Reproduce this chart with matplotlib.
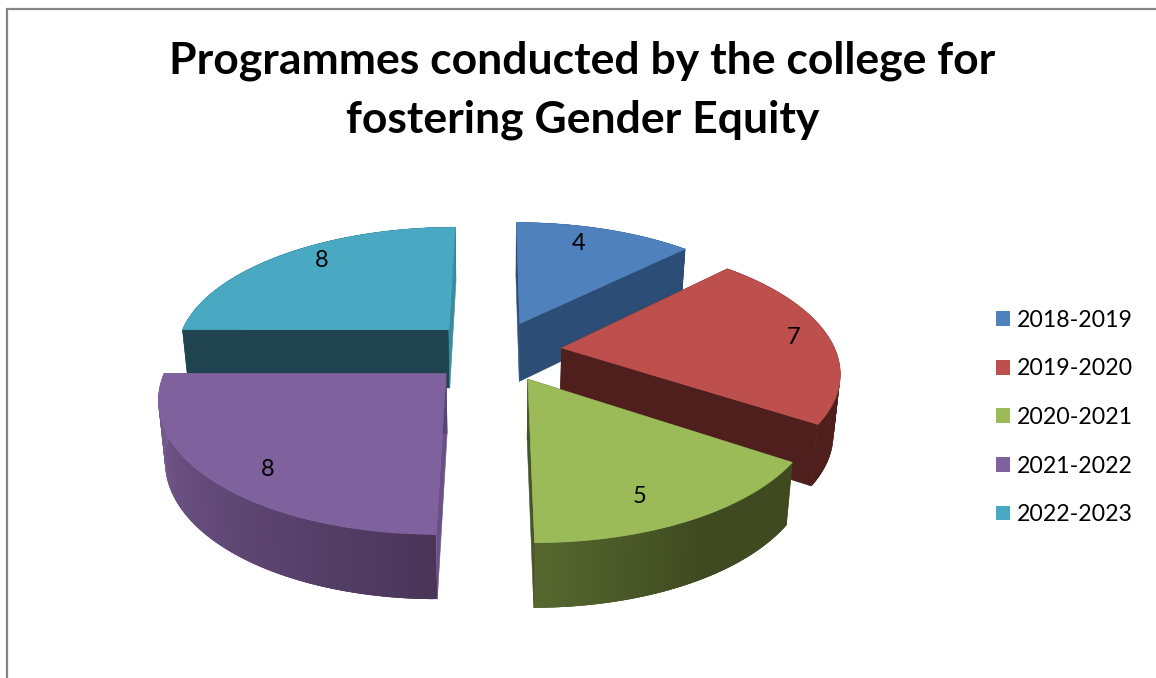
import numpy as np
import matplotlib
matplotlib.use("Agg")
import matplotlib.pyplot as plt
from matplotlib.patches import Polygon, Patch
from matplotlib.collections import PolyCollection
from matplotlib.colors import to_rgb

title_lines = ["Programmes conducted by the college for", "fostering Gender Equity"]
years = ["2018-2019", "2019-2020", "2020-2021", "2021-2022", "2022-2023"]
programmes = [4, 7, 5, 8, 8]

top_colors = ["#4F81BD", "#BD4F4C", "#9BBB59", "#7F619D", "#49A9C3"]
# colour of the flat cut face at the start and at the end of each clockwise sweep
start_faces = ["#2C4D75", "#4F1F1E", "#3F4A20", "#6B5088", "#1F444F"]
end_faces = ["#2C4D75", "#4F1F1E", "#46552A", "#5A4570", "#3A8CA0"]
# outer wall shading: colour stops as (fraction of slice along the clockwise sweep, colour)
wall_stops = [
    [(0, "#2C4D75"), (1, "#2C4D75")],
    [(0, "#4F1F1E"), (1, "#4F1F1E")],
    [(0, "#3F4A20"), (0.45, "#3F4A20"), (1, "#56682F")],
    [(0, "#4A3559"), (1, "#7A5E96")],
    [(0, "#1F444F"), (1, "#1F444F")],
]
# where each value label sits: fraction along the sweep, fraction of the radius
label_sweep = [0.42, 0.50, 0.58, 0.45, 0.55]
label_radius = [0.81, 0.87, 0.82, 0.84, 0.84]

CX, CY, AX_X, AX_Y, K = 495.0, 351.0, 274.0, 126.0, 0.165
EXPLODE = 0.245
BOTTOM_SHRINK = 0.98


def project(X, Y):
    w = 1 + K * np.asarray(Y, float)
    return CX + AX_X * np.asarray(X, float) / w, CY - AX_Y * np.asarray(Y, float) / w, w


def bottom(x, y, w):
    return CX + (x - CX) * BOTTOM_SHRINK, y + 89 - 30 * w


fig = plt.figure(figsize=(11.56, 6.78), dpi=100, facecolor="white")
ax = fig.add_axes([0, 0, 1, 1])
ax.set_xlim(0, 1156)
ax.set_ylim(678, 0)
ax.axis("off")

ax.plot([7, 7, 1156], [678, 9, 9], color="#868686", lw=1.6, solid_joinstyle="miter")

total = sum(programmes)
edges = np.concatenate([[0], np.cumsum(programmes)]) / total * 2 * np.pi
draw_order = [0, 4, 1, 2, 3]

for i in draw_order:
    z = 3 + draw_order.index(i)
    a0, a1 = edges[i], edges[i + 1]
    mid = (a0 + a1) / 2
    ox, oy = EXPLODE * np.sin(mid), EXPLODE * np.cos(mid)
    t = np.linspace(a0, a1, 160)
    rx, ry, rw = project(ox + np.sin(t), oy + np.cos(t))
    bx, by = bottom(rx, ry, rw)
    px, py, pw = project(ox, oy)
    pbx, pby = bottom(px, py, pw)

    # rounded outer wall, shaded strip by strip; strips overlap so no seams show
    frac = (t - a0) / (a1 - a0)
    stops = wall_stops[i]
    sf = [s[0] for s in stops]
    sc = np.array([to_rgb(s[1]) for s in stops])
    cols = np.column_stack([np.interp(frac[:-1], sf, sc[:, c]) for c in range(3)])
    n = len(t)
    strips = []
    for j in range(n - 1):
        e = min(j + 4, n)
        strips.append(np.column_stack([np.r_[rx[j:e], bx[j:e][::-1]], np.r_[ry[j:e], by[j:e][::-1]]]))
    ax.add_collection(PolyCollection(strips, facecolors=cols, edgecolors="none", linewidths=0, zorder=z))

    # flat cut faces, over the wall
    for k, col in ((0, start_faces[i]), (-1, end_faces[i])):
        quad = [(px, py), (rx[k], ry[k]), (bx[k], by[k]), (pbx, pby)]
        ax.add_patch(Polygon(quad, closed=True, fc=col, ec=col, lw=0.4, zorder=z + 0.1))

    # top surface
    top = np.column_stack([np.r_[px, rx], np.r_[py, ry]])
    ax.add_patch(Polygon(top, closed=True, fc=top_colors[i], ec=top_colors[i], lw=0.4, zorder=z + 0.5))

    # value label
    la = a0 + label_sweep[i] * (a1 - a0)
    lx, ly, _ = project(ox + label_radius[i] * np.sin(la), oy + label_radius[i] * np.cos(la))
    ax.text(lx, ly, str(programmes[i]), ha="center", va="center", fontsize=17,
            family="Lato", color="black", zorder=20)

for line, y in zip(title_lines, [61, 120]):
    ax.text(582.5, y, line, ha="center", va="center", fontsize=32, fontweight="bold",
            family="Lato", color="black", zorder=20)

handles = [Patch(fc=c, ec="none", label=y) for c, y in zip(top_colors, years)]
leg = ax.legend(handles=handles, loc="center left", bbox_to_anchor=(996, 417.5),
                bbox_transform=ax.transData, frameon=False,
                prop={"family": "Lato", "size": 16.7}, handlelength=0.6, handleheight=0.6,
                handletextpad=0.3, labelspacing=1.19, borderpad=0, borderaxespad=0)

fig.savefig("out.png", dpi=100)
